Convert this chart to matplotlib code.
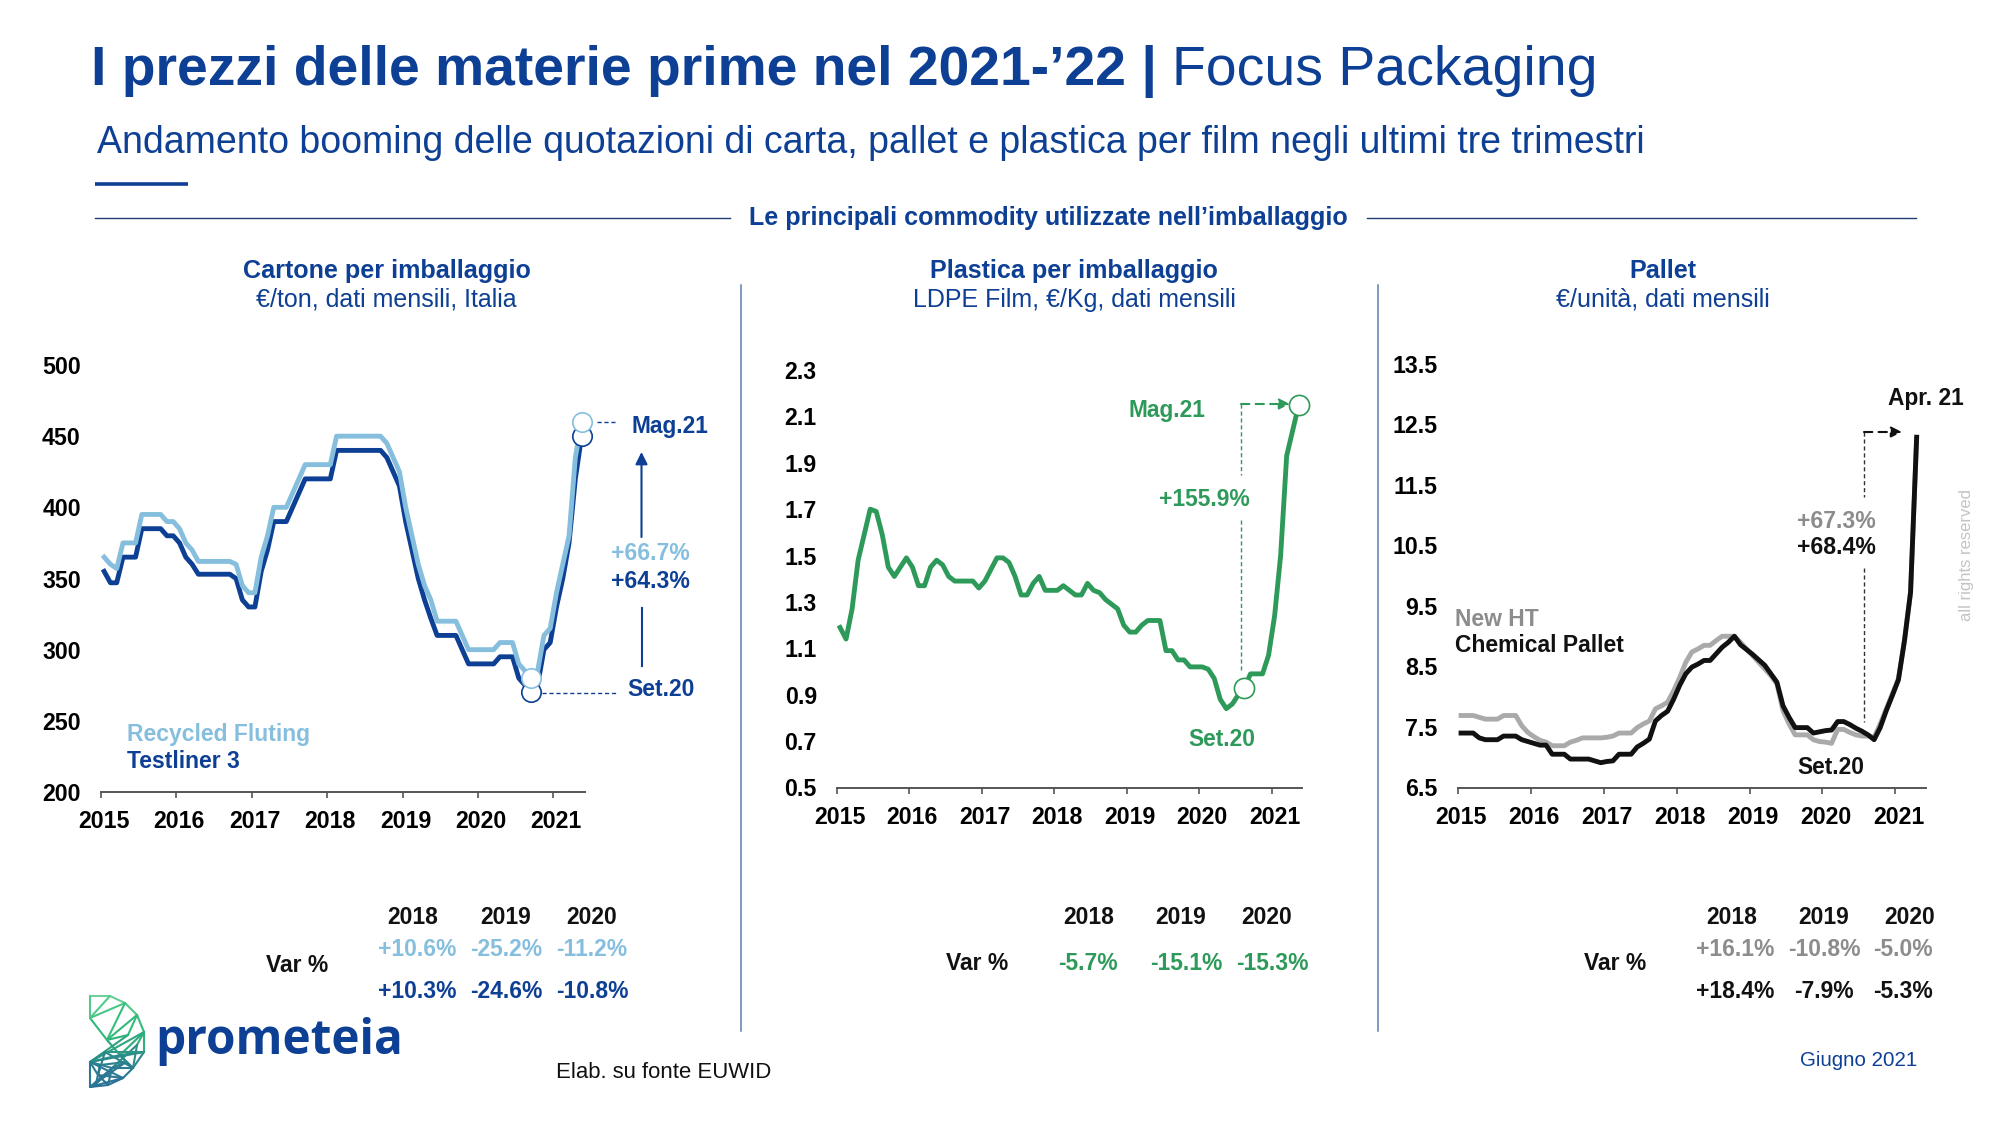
import numpy as np
import matplotlib
matplotlib.use("Agg")
import matplotlib.pyplot as plt
from matplotlib.transforms import ScaledTranslation
from matplotlib.colors import LinearSegmentedColormap

plt.rcParams['font.family'] = ['Liberation Sans', 'DejaVu Sans']

BLUE = '#0d3f94'
LIGHT = '#86bfde'
GREEN = '#2e9a5a'
GREY_LINE = '#aaaaaa'
GREY_TEXT = '#8c8c8c'
BLACK = '#111111'
SEP = '#5b7fae'

years = [2015, 2016, 2017, 2018, 2019, 2020, 2021]

# monthly values, first point is Jan 2015
recycled_fluting = [365, 360, 357, 375, 375, 375, 395, 395, 395, 395, 390, 390, 385, 375, 370, 362, 362, 362, 362, 362,
                    362, 360, 345, 340, 340, 365, 380, 400, 400, 400, 410, 420, 430, 430, 430, 430, 430, 450, 450, 450,
                    450, 450, 450, 450, 450, 445, 435, 425, 400, 380, 360, 345, 335, 320, 320, 320, 320, 310, 300, 300,
                    300, 300, 300, 305, 305, 305, 290, 285, 280, 285, 310, 315, 340, 360, 380, 435, 460]
testliner = [355, 347, 347, 365, 365, 365, 385, 385, 385, 385, 380, 380, 375, 365, 360, 353, 353, 353, 353, 353,
             353, 350, 335, 330, 330, 355, 370, 390, 390, 390, 400, 410, 420, 420, 420, 420, 420, 440, 440, 440,
             440, 440, 440, 440, 440, 435, 425, 415, 390, 370, 350, 335, 322, 310, 310, 310, 310, 300, 290, 290,
             290, 290, 290, 295, 295, 295, 280, 275, 270, 275, 300, 305, 330, 350, 375, 420, 450]
ldpe_film = [1.19, 1.14, 1.27, 1.48, 1.59, 1.70, 1.69, 1.59, 1.45, 1.41, 1.45, 1.49, 1.45, 1.37, 1.37, 1.45, 1.48, 1.46,
             1.41, 1.39, 1.39, 1.39, 1.39, 1.36, 1.39, 1.44, 1.49, 1.49, 1.47, 1.41, 1.33, 1.33, 1.38, 1.41, 1.35, 1.35,
             1.35, 1.37, 1.35, 1.33, 1.33, 1.38, 1.35, 1.34, 1.31, 1.29, 1.27, 1.20, 1.17, 1.17, 1.20, 1.22, 1.22, 1.22,
             1.09, 1.09, 1.05, 1.05, 1.02, 1.02, 1.02, 1.01, 0.97, 0.88, 0.84, 0.86, 0.90, 0.93, 0.99, 0.99, 0.99, 1.07,
             1.24, 1.50, 1.93, 2.04, 2.15]
new_ht = [7.69, 7.69, 7.69, 7.66, 7.63, 7.63, 7.63, 7.69, 7.69, 7.69, 7.52, 7.41, 7.34, 7.28, 7.25, 7.19, 7.19, 7.19,
          7.25, 7.28, 7.32, 7.32, 7.32, 7.32, 7.33, 7.35, 7.40, 7.40, 7.40, 7.49, 7.55, 7.60, 7.80, 7.85, 7.91, 8.10,
          8.32, 8.57, 8.74, 8.79, 8.85, 8.85, 8.93, 9.00, 9.00, 9.00, 8.90, 8.79, 8.68, 8.57, 8.46, 8.35, 8.21, 7.77,
          7.55, 7.37, 7.37, 7.37, 7.29, 7.26, 7.25, 7.23, 7.46, 7.46, 7.41, 7.37, 7.35, 7.35, 7.33, 7.55, 7.80, 8.05,
          8.30, 8.93, 9.73, 12.26]
chemical = [7.40, 7.40, 7.40, 7.32, 7.29, 7.29, 7.29, 7.35, 7.35, 7.35, 7.29, 7.26, 7.23, 7.20, 7.20, 7.05, 7.05, 7.05,
            6.97, 6.97, 6.97, 6.97, 6.94, 6.91, 6.93, 6.94, 7.05, 7.05, 7.05, 7.17, 7.23, 7.30, 7.60, 7.69, 7.76, 7.96,
            8.19, 8.38, 8.49, 8.54, 8.60, 8.60, 8.71, 8.82, 8.90, 9.00, 8.86, 8.78, 8.70, 8.61, 8.52, 8.38, 8.24, 7.85,
            7.66, 7.49, 7.49, 7.49, 7.40, 7.42, 7.44, 7.45, 7.59, 7.59, 7.54, 7.48, 7.43, 7.37, 7.29, 7.49, 7.77, 8.02,
            8.28, 8.93, 9.73, 12.29]

table_years = ['2018', '2019', '2020']
var_fluting = ['+10.6%', '-25.2%', '-11.2%']
var_testliner = ['+10.3%', '-24.6%', '-10.8%']
var_ldpe = ['-5.7%', '-15.1%', '-15.3%']
var_new_ht = ['+16.1%', '-10.8%', '-5.0%']
var_chemical = ['+18.4%', '-7.9%', '-5.3%']

W, H = 2000, 1125


def months(values):
    """Monthly x positions, each month sits in the middle of its slot"""
    return 2015 + (np.arange(len(values)) + 0.5) / 12


def make_axes(fig, left, right, top, bottom, xmax, yticks, ylabels):
    ax = fig.add_axes([left / W, 1 - bottom / H, (right - left) / W, (bottom - top) / H])
    ax.set_xlim(2015, xmax)
    ax.set_ylim(yticks[0], yticks[-1])
    ax.patch.set_alpha(0)
    for side in ['top', 'right', 'left']:
        ax.spines[side].set_visible(False)
    ax.spines['bottom'].set_color('#555555')
    ax.spines['bottom'].set_linewidth(1.4)
    ax.set_xticks(years)
    ax.set_yticks(yticks)
    ax.set_yticklabels(ylabels)
    ax.tick_params(axis='y', length=0, pad=14.5)
    ax.tick_params(axis='x', length=4, width=1.2, color='#555555', pad=9)
    for lab in ax.get_xticklabels() + ax.get_yticklabels():
        lab.set_fontsize(16.7)
        lab.set_fontweight('bold')
        lab.set_color('black')
    # year labels sit a bit to the right of their ticks
    for lab in ax.get_xticklabels():
        lab.set_transform(lab.get_transform() + ScaledTranslation(3 / 100, 0, fig.dpi_scale_trans))
    return ax


def ring(ax, x, y, edge, size=14):
    ax.plot([x], [y], 'o', ms=size, mfc='white', mec=edge, mew=1.2, zorder=5, clip_on=False)


def table(over, head_xs, val_xs, y_head, rows, var_x, var_y):
    for x, lab in zip(head_xs, table_years):
        over.text(x, y_head, lab, fontsize=16.5, fontweight='bold', color=BLACK, ha='center', va='center')
    for vals, y, col in rows:
        for x, v in zip(val_xs, vals):
            over.text(x, y, v, fontsize=16.5, fontweight='bold', color=col, ha='center', va='center')
    over.text(var_x, var_y, 'Var %', fontsize=16.5, fontweight='bold', color=BLACK, ha='center', va='center')


def draw_logo(over):
    """Wire mesh of the logo, coloured from green at the top to teal at the bottom"""
    nodes = {'a': (90, 996), 'b': (110, 996), 'c': (125, 1003), 'd': (137, 1015), 'e': (144, 1032),
             'f': (144, 1052), 'g': (133, 1068), 'h': (123, 1078), 'i': (108, 1085), 'j': (90, 1087),
             'k': (90, 1062), 'l': (90, 1018), 'm': (107, 1040), 'n': (120, 1055), 'o': (128, 1035),
             'p': (112, 1068), 'q': (98, 1075), 'r': (137, 1045), 's': (105, 1052), 't': (100, 1065),
             'u': (126, 1062), 'v': (96, 1084)}
    edges = ['ab', 'bc', 'cd', 'de', 'ef', 'fg', 'gh', 'hi', 'ij', 'jk', 'al', 'lm', 'mn', 'nf', 'kf', 'ke', 'lb',
             'lc', 'cm', 'do', 'ok', 'om', 'er', 'rp', 'kp', 'kh', 'pi', 'kn', 'ne', 'ng', 'gp', 'sg', 'ks', 'sf',
             'jp', 'qh', 'kq', 'qi', 'jh', 'md', 'sq', 'rg', 'kt', 'tu', 'ug', 'tv', 'vp', 'ju', 'tq', 'pu', 'un']
    cmap = LinearSegmentedColormap.from_list('logo', ['#6fd19a', '#35c07c', '#2fb07a', '#2a7f90', '#2a6f98'])
    for e in edges:
        p, q = nodes[e[0]], nodes[e[1]]
        t = ((p[1] + q[1]) / 2 - 996) / 91
        over.plot([p[0], q[0]], [p[1], q[1]], color=cmap(t), lw=1.5, solid_capstyle='round')
    over.text(155, 1041, 'prometeia', fontsize=34.4, fontweight='bold', family='Open Sans', color=BLUE, ha='left',
              va='center')


def main():
    fig = plt.figure(figsize=(20, 11.25), dpi=100, facecolor='white')

    # overlay in image pixels, for all the slide text and rules
    over = fig.add_axes([0, 0, 1, 1])
    over.set_xlim(0, W)
    over.set_ylim(H, 0)
    over.axis('off')

    over.text(91, 71, 'I prezzi delle materie prime nel 2021-’22 |', fontsize=39.8, fontweight='bold', color=BLUE,
              ha='left', va='center')
    over.text(1172, 71, 'Focus Packaging', fontsize=39.9, color=BLUE, ha='left', va='center')
    over.text(97, 143, 'Andamento booming delle quotazioni di carta, pallet e plastica per film negli ultimi tre '
              'trimestri', fontsize=27, color=BLUE, ha='left', va='center')
    over.plot([95, 188], [184, 184], color=BLUE, lw=2.6, solid_capstyle='butt')
    over.plot([95, 730], [218, 218], color='#1f3f70', lw=1)
    over.plot([1367, 1916], [218, 218], color='#1f3f70', lw=1)
    over.text(1048, 218, 'Le principali commodity utilizzate nell’imballaggio', fontsize=18.1, fontweight='bold',
              color=BLUE, ha='center', va='center')

    heads = [(386.5, 'Cartone per imballaggio', '€/ton, dati mensili, Italia'),
             (1074, 'Plastica per imballaggio', 'LDPE Film, €/Kg, dati mensili'),
             (1663, 'Pallet', '€/unità, dati mensili')]
    for x, t, s in heads:
        over.text(x, 271, t, fontsize=18.1, fontweight='bold', color=BLUE, ha='center', va='center')
        over.text(x, 300, s, fontsize=18, color=BLUE, ha='center', va='center')
    for x in [741, 1378]:
        over.plot([x, x], [285, 1031], color=SEP, lw=1.1)

    # Cartone
    ax1 = make_axes(fig, 101, 585, 365, 792, 2021.42, [200, 250, 300, 350, 400, 450, 500],
                    ['200', '250', '300', '350', '400', '450', '500'])
    ax1.plot(months(testliner), testliner, color=BLUE, lw=3.5, solid_joinstyle='round')
    ax1.plot(months(recycled_fluting), recycled_fluting, color=LIGHT, lw=3.5, solid_joinstyle='round')
    ring(ax1, months(testliner)[68], testliner[68], BLUE)
    ring(ax1, months(recycled_fluting)[68], recycled_fluting[68], LIGHT)
    ring(ax1, months(testliner)[76], testliner[76], BLUE)
    ring(ax1, months(recycled_fluting)[76], recycled_fluting[76], LIGHT)
    over.plot([542, 616], [693, 693], color=BLUE, lw=1, ls=(0, (3, 2)))
    over.plot([597, 615], [422, 422], color=BLUE, lw=1, ls=(0, (3, 2)))
    over.text(670, 427, 'Mag.21', fontsize=16.4, fontweight='bold', color=BLUE, ha='center', va='center')
    over.text(661, 689, 'Set.20', fontsize=16.5, fontweight='bold', color=BLUE, ha='center', va='center')
    over.text(650, 554, '+66.7%', fontsize=16.6, fontweight='bold', color=LIGHT, ha='center', va='center')
    over.text(650, 582, '+64.3%', fontsize=16.6, fontweight='bold', color=BLUE, ha='center', va='center')
    over.annotate('', xy=(641.5, 452), xytext=(641.5, 537),
                  arrowprops=dict(arrowstyle='-|>', color=BLUE, lw=1.5, mutation_scale=18, shrinkA=0, shrinkB=0))
    over.plot([641.5, 641.5], [608, 666], color=BLUE, lw=1.5)
    over.text(127, 735, 'Recycled Fluting', fontsize=16.5, fontweight='bold', color=LIGHT, ha='left', va='center')
    over.text(127, 762, 'Testliner 3', fontsize=16.5, fontweight='bold', color=BLUE, ha='left', va='center')
    table(over, [413, 506, 592], [417, 506.5, 592], 917, [(var_fluting, 949.5, LIGHT), (var_testliner, 991.5, BLUE)],
          297, 965)

    # Plastica
    ax2 = make_axes(fig, 837, 1302, 370, 787.5, 2021.42, [0.5, 0.7, 0.9, 1.1, 1.3, 1.5, 1.7, 1.9, 2.1, 2.3],
                    ['0.5', '0.7', '0.9', '1.1', '1.3', '1.5', '1.7', '1.9', '2.1', '2.3'])
    ax2.plot(months(ldpe_film), ldpe_film, color=GREEN, lw=3.5, solid_joinstyle='round')
    ring(ax2, months(ldpe_film)[67], ldpe_film[67], GREEN, 14.5)
    ring(ax2, months(ldpe_film)[76], ldpe_film[76], GREEN, 14.5)
    over.text(1167, 411, 'Mag.21', fontsize=16.4, fontweight='bold', color=GREEN, ha='center', va='center')
    over.text(1222, 739, 'Set.20', fontsize=16.4, fontweight='bold', color=GREEN, ha='center', va='center')
    over.text(1204, 500, '+155.9%', fontsize=16.5, fontweight='bold', color=GREEN, ha='center', va='center')
    over.plot([1241, 1241], [404, 475], color=GREEN, lw=1, ls=(0, (3, 2)))
    over.plot([1241, 1241], [520, 672], color=GREEN, lw=1, ls=(0, (3, 2)))
    over.annotate('', xy=(1290, 404), xytext=(1241, 404),
                  arrowprops=dict(arrowstyle='-|>', color=GREEN, lw=1.5, ls=(0, (4, 3)), mutation_scale=16,
                                  shrinkA=0, shrinkB=0))
    table(over, [1089, 1181, 1266.5], [1088, 1186, 1272], 917, [(var_ldpe, 964, GREEN)], 977, 963)

    # Pallet
    ax3 = make_axes(fig, 1458, 1926, 364, 787.5, 2021.42, [6.5, 7.5, 8.5, 9.5, 10.5, 11.5, 12.5, 13.5],
                    ['6.5', '7.5', '8.5', '9.5', '10.5', '11.5', '12.5', '13.5'])
    ax3.plot(months(new_ht), new_ht, color=GREY_LINE, lw=3.5, solid_joinstyle='round')
    ax3.plot(months(chemical), chemical, color=BLACK, lw=3.5, solid_joinstyle='round')
    over.text(1926, 399, 'Apr. 21', fontsize=16.4, fontweight='bold', color=BLACK, ha='center', va='center')
    over.text(1455, 620, 'New HT', fontsize=16.5, fontweight='bold', color=GREY_TEXT, ha='left', va='center')
    over.text(1455, 646, 'Chemical Pallet', fontsize=16.5, fontweight='bold', color=BLACK, ha='left', va='center')
    over.text(1836, 521, '+67.3%', fontsize=16.6, fontweight='bold', color=GREY_TEXT, ha='center', va='center')
    over.text(1836, 548, '+68.4%', fontsize=16.6, fontweight='bold', color=BLACK, ha='center', va='center')
    over.text(1831, 767, 'Set.20', fontsize=16.4, fontweight='bold', color=BLACK, ha='center', va='center')
    over.plot([1864, 1864], [432, 497], color='#333333', lw=1, ls=(0, (3, 2)))
    over.plot([1864, 1864], [568, 722], color='#333333', lw=1, ls=(0, (3, 2)))
    over.annotate('', xy=(1902, 432), xytext=(1864, 432),
                  arrowprops=dict(arrowstyle='-|>', color=BLACK, lw=1.5, ls=(0, (4, 3)), mutation_scale=16,
                                  shrinkA=0, shrinkB=0))
    over.text(1967, 555, 'all rights reserved', fontsize=12, color='#c4c4c4', rotation=90, ha='center', va='center')
    table(over, [1732, 1824, 1909.5], [1735, 1824, 1903], 917,
          [(var_new_ht, 949.5, GREY_TEXT), (var_chemical, 991.5, BLACK)], 1615, 964)

    # footer
    draw_logo(over)
    over.text(556, 1073, 'Elab. su fonte EUWID', fontsize=15.9, color=BLACK, ha='left', va='center')
    over.text(1917, 1061, 'Giugno 2021', fontsize=14.8, color=BLUE, ha='right', va='center')

    fig.savefig('out.png', dpi=100, facecolor='white')
    plt.close(fig)


if __name__ == "__main__":
    main()
